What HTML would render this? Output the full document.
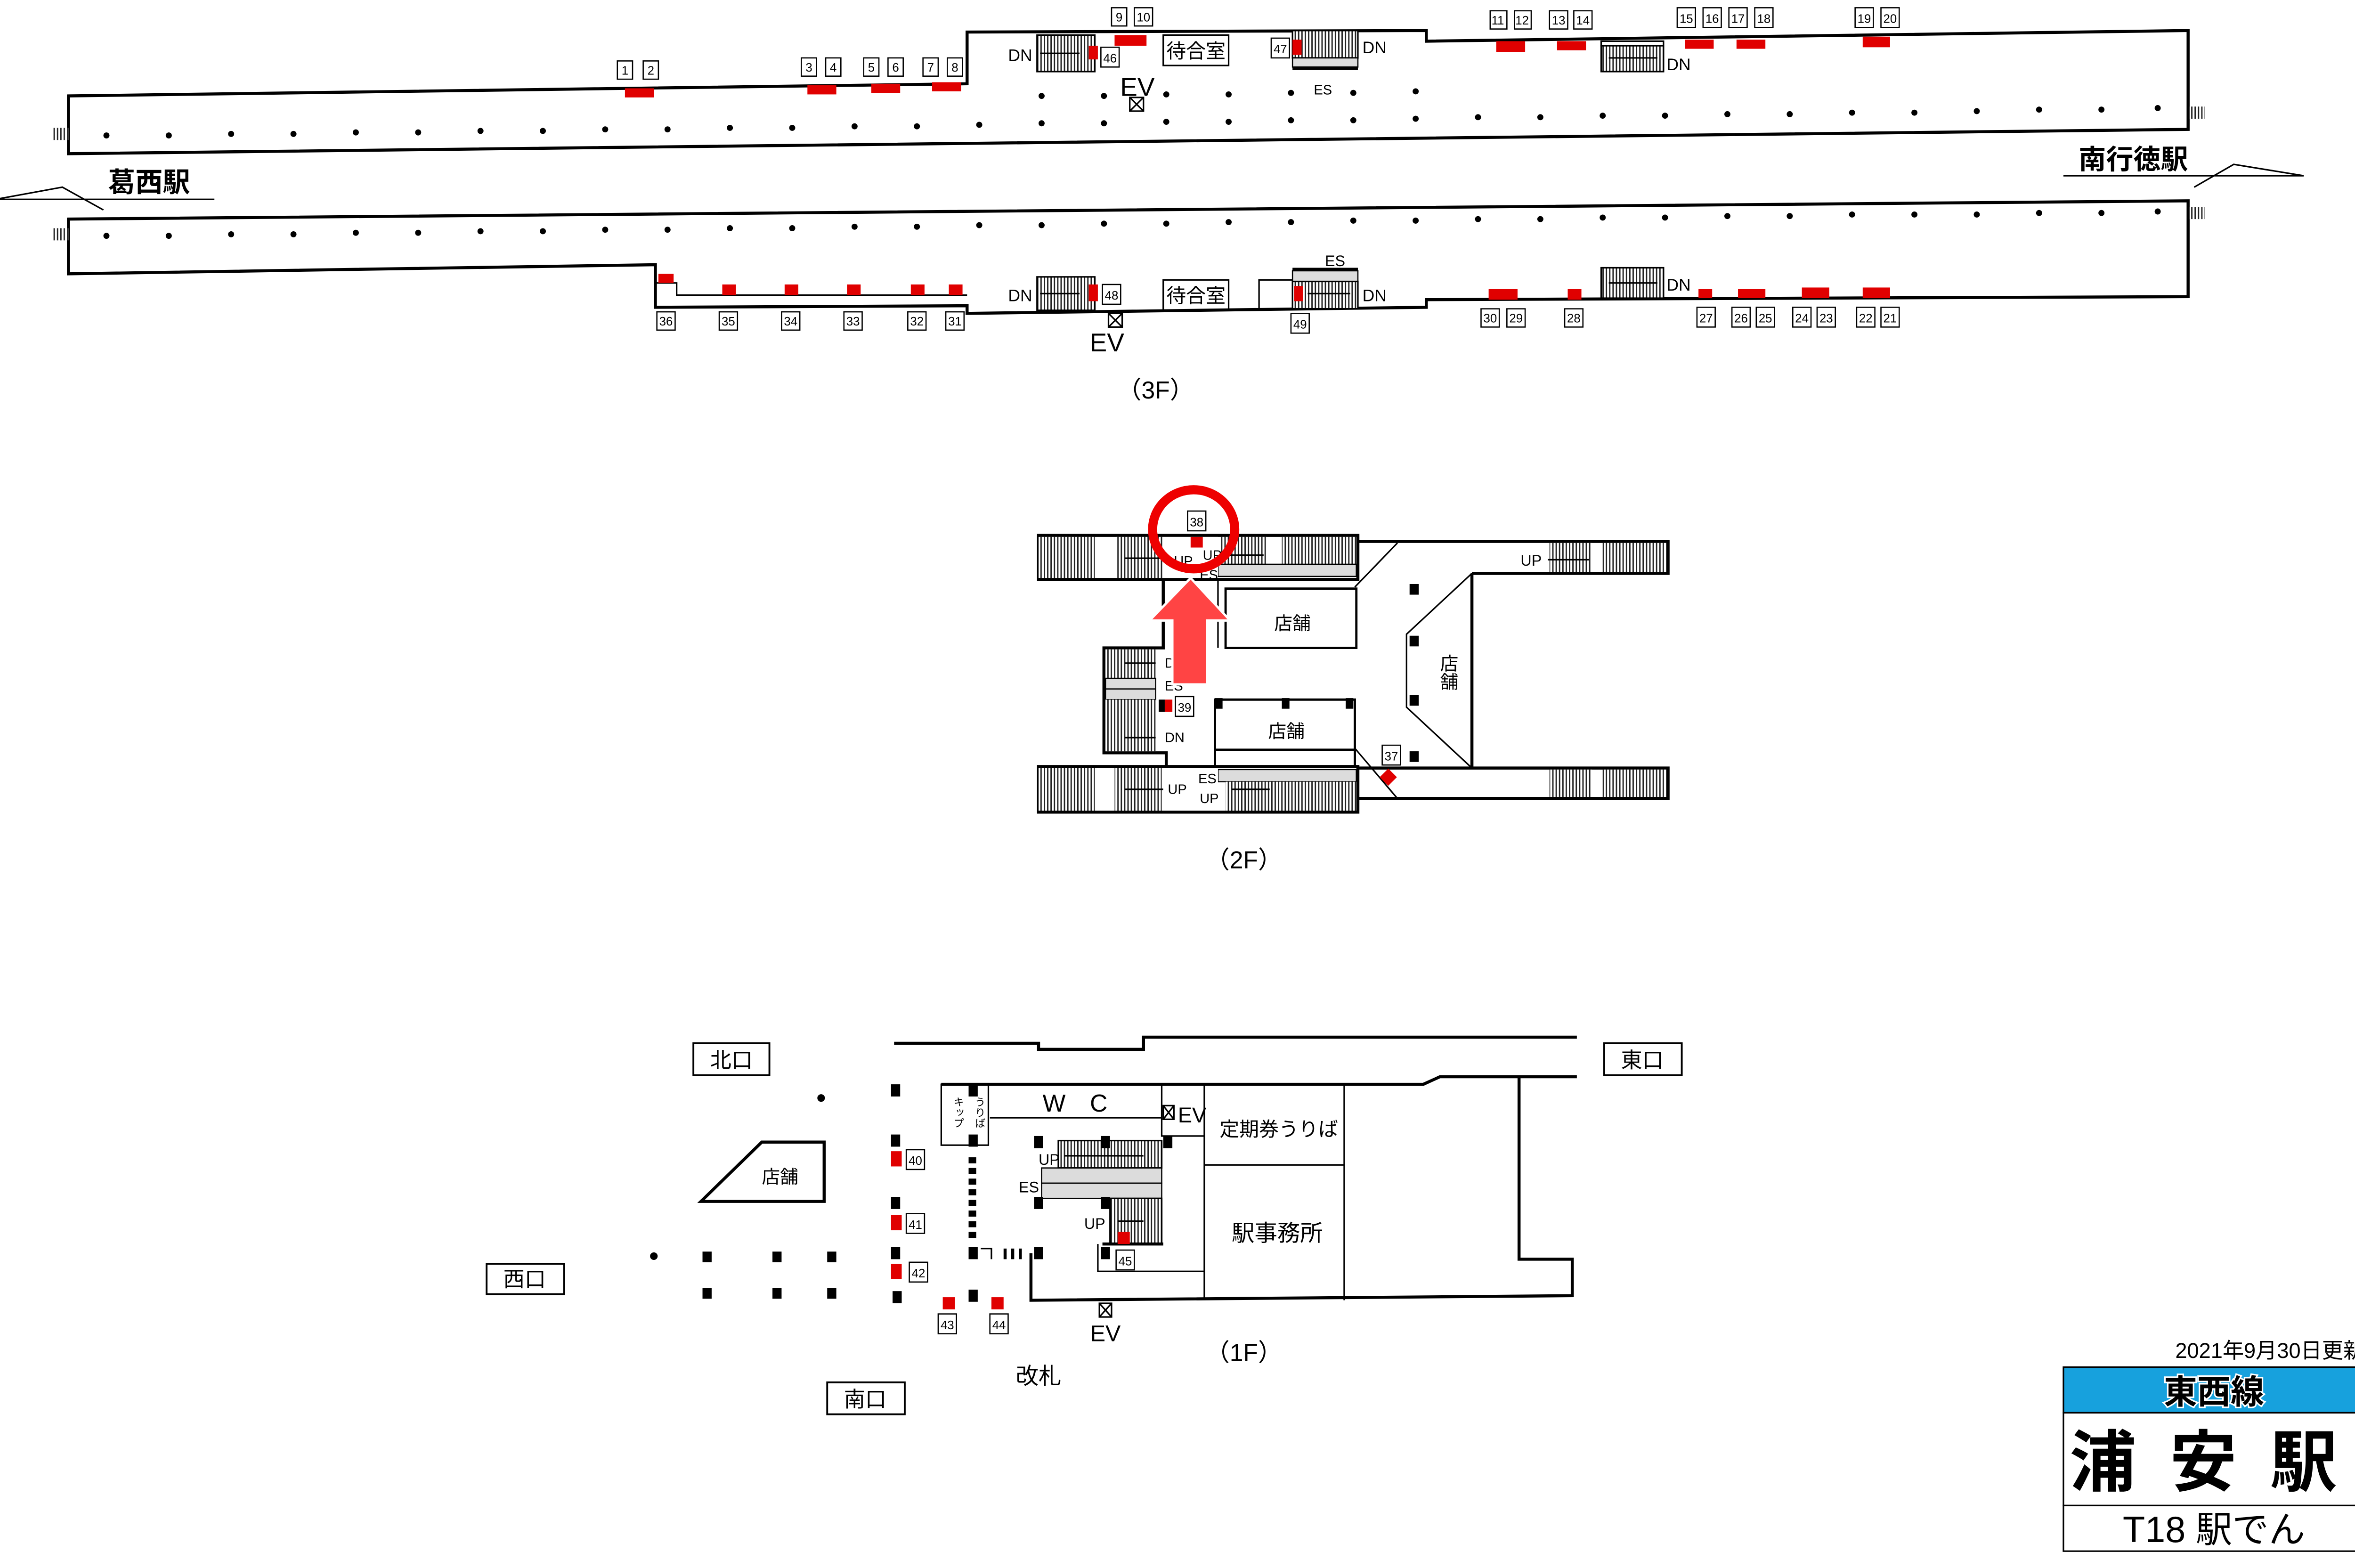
<!DOCTYPE html>
<html><head><meta charset="utf-8"><style>
html,body{margin:0;padding:0;background:#fff;}
svg{display:block;}
text{font-family:"Liberation Sans","Noto Sans CJK JP",sans-serif;fill:#000;}
.n rect{fill:#fff;stroke:#000;stroke-width:0.8;}
.n text{font-size:8px;text-anchor:middle;}
.r{fill:#e00000;}
.w{fill:none;stroke:#000;stroke-width:2;}
.t{fill:none;stroke:#000;stroke-width:1;}
.h{fill:url(#hatch);stroke:#000;stroke-width:1;}
.g{fill:#dcdcdc;stroke:#000;stroke-width:0.8;}
.p{fill:#000;}
</style></head><body>
<svg width="5046" height="3329" viewBox="0 0 1563 1031" xmlns="http://www.w3.org/2000/svg">
<defs>
<pattern id="hatch" width="2.2" height="10" patternUnits="userSpaceOnUse">
<rect width="2.2" height="10" fill="#fff"/><rect width="0.9" height="10" fill="#222"/>
</pattern>
</defs>

<!-- ===== 3F top platform ===== -->
<path class="w" d="M45,63 L636,55 L636,21 L938,20 L938,27 L1439,20 L1439,85 L45,101 Z"/>
<rect x="35" y="84" width="10" height="8" fill="url(#hatch)"/>
<rect x="1440" y="70" width="10" height="8" fill="url(#hatch)"/>
<g class="p">
<circle cx="70" cy="89" r="2"/><circle cx="111" cy="89" r="2"/><circle cx="152" cy="88" r="2"/><circle cx="193" cy="88" r="2"/><circle cx="234" cy="87" r="2"/><circle cx="275" cy="87" r="2"/><circle cx="316" cy="86" r="2"/><circle cx="357" cy="86" r="2"/><circle cx="398" cy="85" r="2"/><circle cx="439" cy="85" r="2"/><circle cx="480" cy="84" r="2"/><circle cx="521" cy="84" r="2"/><circle cx="562" cy="83" r="2"/><circle cx="603" cy="83" r="2"/><circle cx="644" cy="82" r="2"/><circle cx="685" cy="81" r="2"/><circle cx="726" cy="81" r="2"/><circle cx="767" cy="80" r="2"/><circle cx="808" cy="80" r="2"/><circle cx="849" cy="79" r="2"/><circle cx="890" cy="79" r="2"/><circle cx="931" cy="78" r="2"/><circle cx="972" cy="77" r="2"/><circle cx="1013" cy="77" r="2"/><circle cx="1054" cy="76" r="2"/><circle cx="1095" cy="76" r="2"/><circle cx="1136" cy="75" r="2"/><circle cx="1177" cy="75" r="2"/><circle cx="1218" cy="74" r="2"/><circle cx="1259" cy="74" r="2"/><circle cx="1300" cy="73" r="2"/><circle cx="1341" cy="72" r="2"/><circle cx="1382" cy="72" r="2"/><circle cx="1419" cy="71" r="2"/>
<circle cx="685" cy="63" r="2"/><circle cx="726" cy="63" r="2"/><circle cx="767" cy="62" r="2"/><circle cx="808" cy="62" r="2"/><circle cx="849" cy="61" r="2"/><circle cx="890" cy="61" r="2"/><circle cx="931" cy="60" r="2"/>
</g>
<!-- top red + numbers -->
<rect class="r" x="411" y="58" width="19" height="6"/>
<rect class="r" x="531" y="56" width="19" height="6"/><rect class="r" x="573" y="55" width="19" height="6"/><rect class="r" x="613" y="54" width="19" height="6"/>
<rect class="r" x="733" y="23" width="21" height="7"/>
<rect class="r" x="984" y="27" width="19" height="7"/><rect class="r" x="1024" y="27" width="19" height="6"/><rect class="r" x="1108" y="26" width="19" height="6"/><rect class="r" x="1142" y="26" width="19" height="6"/><rect class="r" x="1225" y="24" width="18" height="7"/>
<g class="n">
<rect x="406" y="40" width="10" height="12"/><text x="411" y="49">1</text>
<rect x="423" y="40" width="10" height="12"/><text x="428" y="49">2</text>
<rect x="527" y="38" width="10" height="12"/><text x="532" y="47">3</text>
<rect x="543" y="38" width="10" height="12"/><text x="548" y="47">4</text>
<rect x="568" y="38" width="10" height="12"/><text x="573" y="47">5</text>
<rect x="584" y="38" width="10" height="12"/><text x="589" y="47">6</text>
<rect x="607" y="38" width="10" height="12"/><text x="612" y="47">7</text>
<rect x="623" y="38" width="10" height="12"/><text x="628" y="47">8</text>
<rect x="731" y="5" width="10" height="12"/><text x="736" y="14">9</text>
<rect x="746" y="5" width="12" height="12"/><text x="752" y="14">10</text>
<rect x="980" y="7" width="11" height="12"/><text x="985" y="16">11</text>
<rect x="996" y="7" width="11" height="12"/><text x="1001" y="16">12</text>
<rect x="1019" y="7" width="12" height="12"/><text x="1025" y="16">13</text>
<rect x="1035" y="7" width="12" height="12"/><text x="1041" y="16">14</text>
<rect x="1103" y="5" width="12" height="13"/><text x="1109" y="15">15</text>
<rect x="1120" y="5" width="12" height="13"/><text x="1126" y="15">16</text>
<rect x="1137" y="5" width="12" height="13"/><text x="1143" y="15">17</text>
<rect x="1154" y="5" width="12" height="13"/><text x="1160" y="15">18</text>
<rect x="1220" y="5" width="12" height="13"/><text x="1226" y="15">19</text>
<rect x="1237" y="5" width="12" height="13"/><text x="1243" y="15">20</text>
<rect x="724" y="31" width="12" height="13"/><text x="730" y="41">46</text>
<rect x="836" y="25" width="12" height="13"/><text x="842" y="35">47</text>
</g>
<!-- top stairs -->
<rect class="h" x="682" y="23" width="38" height="24"/>
<line class="t" x1="684" y1="35" x2="710" y2="35"/>
<rect class="r" x="716" y="30" width="6" height="9"/>
<text x="663" y="40" font-size="11">DN</text>
<rect class="t" x="765" y="23" width="43" height="20" fill="#fff"/>
<text x="786.5" y="38" font-size="13" text-anchor="middle">待合室</text>
<text x="748" y="63" font-size="17" text-anchor="middle">EV</text>
<rect class="t" x="743" y="64" width="9" height="9" fill="#fff"/><path class="t" d="M743,64 L752,73 M752,64 L743,73"/>
<rect class="h" x="850" y="20" width="43" height="18"/>
<rect class="g" x="850" y="38" width="43" height="6"/>
<line x1="850" y1="45" x2="893" y2="45" stroke="#000" stroke-width="2"/>
<rect class="r" x="850" y="26" width="6" height="10"/>
<text x="896" y="35" font-size="11">DN</text>
<text x="870" y="62" font-size="9" text-anchor="middle">ES</text>
<rect class="t" x="1053" y="27" width="41" height="3" fill="#fff"/>
<rect class="h" x="1053" y="30" width="41" height="17"/>
<line class="t" x1="1058" y1="38" x2="1090" y2="38"/>
<text x="1096" y="46" font-size="11">DN</text>

<!-- ===== 3F bottom platform ===== -->
<path class="w" d="M45,144 L1439,132 L1439,195 L938,197 L938,202 L636,206 L636,201 L431,202 L431,174 L45,180 Z"/>
<path class="t" d="M431,186 L445,186 L445,194 L636,194"/>
<rect x="35" y="150" width="10" height="8" fill="url(#hatch)"/>
<rect x="1440" y="136" width="10" height="8" fill="url(#hatch)"/>
<g class="p">
<circle cx="70" cy="155" r="2"/><circle cx="111" cy="155" r="2"/><circle cx="152" cy="154" r="2"/><circle cx="193" cy="154" r="2"/><circle cx="234" cy="153" r="2"/><circle cx="275" cy="153" r="2"/><circle cx="316" cy="152" r="2"/><circle cx="357" cy="152" r="2"/><circle cx="398" cy="151" r="2"/><circle cx="439" cy="151" r="2"/><circle cx="480" cy="150" r="2"/><circle cx="521" cy="150" r="2"/><circle cx="562" cy="149" r="2"/><circle cx="603" cy="149" r="2"/><circle cx="644" cy="148" r="2"/><circle cx="685" cy="148" r="2"/><circle cx="726" cy="147" r="2"/><circle cx="767" cy="147" r="2"/><circle cx="808" cy="146" r="2"/><circle cx="849" cy="146" r="2"/><circle cx="890" cy="145" r="2"/><circle cx="931" cy="145" r="2"/><circle cx="972" cy="144" r="2"/><circle cx="1013" cy="144" r="2"/><circle cx="1054" cy="143" r="2"/><circle cx="1095" cy="143" r="2"/><circle cx="1136" cy="142" r="2"/><circle cx="1177" cy="142" r="2"/><circle cx="1218" cy="141" r="2"/><circle cx="1259" cy="141" r="2"/><circle cx="1300" cy="141" r="2"/><circle cx="1341" cy="140" r="2"/><circle cx="1382" cy="140" r="2"/><circle cx="1419" cy="139" r="2"/>
</g>
<rect class="r" x="433" y="180" width="10" height="6"/>
<rect class="r" x="475" y="187" width="9" height="7"/><rect class="r" x="516" y="187" width="9" height="7"/><rect class="r" x="557" y="187" width="9" height="7"/><rect class="r" x="599" y="187" width="9" height="7"/><rect class="r" x="624" y="187" width="9" height="7"/>
<rect class="r" x="979" y="190" width="19" height="7"/><rect class="r" x="1031" y="190" width="9" height="7"/><rect class="r" x="1117" y="190" width="9" height="6"/><rect class="r" x="1143" y="190" width="18" height="6"/><rect class="r" x="1185" y="189" width="18" height="7"/><rect class="r" x="1225" y="189" width="18" height="7"/>
<g class="n">
<rect x="432" y="205" width="12" height="12"/><text x="438" y="214">36</text>
<rect x="473" y="205" width="12" height="12"/><text x="479" y="214">35</text>
<rect x="514" y="205" width="12" height="12"/><text x="520" y="214">34</text>
<rect x="555" y="205" width="12" height="12"/><text x="561" y="214">33</text>
<rect x="597" y="205" width="12" height="12"/><text x="603" y="214">32</text>
<rect x="622" y="205" width="12" height="12"/><text x="628" y="214">31</text>
<rect x="725" y="187" width="12" height="13"/><text x="731" y="197">48</text>
<rect x="849" y="206" width="12" height="13"/><text x="855" y="216">49</text>
<rect x="974" y="203" width="12" height="12"/><text x="980" y="212">30</text>
<rect x="991" y="203" width="12" height="12"/><text x="997" y="212">29</text>
<rect x="1029" y="203" width="12" height="12"/><text x="1035" y="212">28</text>
<rect x="1116" y="202" width="12" height="13"/><text x="1122" y="212">27</text>
<rect x="1139" y="202" width="12" height="13"/><text x="1145" y="212">26</text>
<rect x="1155" y="202" width="12" height="13"/><text x="1161" y="212">25</text>
<rect x="1179" y="202" width="12" height="13"/><text x="1185" y="212">24</text>
<rect x="1195" y="202" width="12" height="13"/><text x="1201" y="212">23</text>
<rect x="1221" y="202" width="12" height="13"/><text x="1227" y="212">22</text>
<rect x="1237" y="202" width="12" height="13"/><text x="1243" y="212">21</text>
</g>
<rect class="h" x="682" y="182" width="38" height="22"/>
<line class="t" x1="684" y1="193" x2="710" y2="193"/>
<rect class="r" x="716" y="187" width="6" height="11"/>
<text x="663" y="198" font-size="11">DN</text>
<rect class="t" x="765" y="184" width="43" height="20" fill="#fff"/>
<text x="786.5" y="199" font-size="13" text-anchor="middle">待合室</text>
<rect class="t" x="729" y="206" width="9" height="9" fill="#fff"/><path class="t" d="M729,206 L738,215 M738,206 L729,215"/>
<text x="728" y="231" font-size="17" text-anchor="middle">EV</text>
<rect class="t" x="828" y="184" width="22" height="19" fill="#fff"/>
<line x1="850" y1="177" x2="893" y2="177" stroke="#000" stroke-width="2"/>
<rect class="g" x="850" y="178" width="43" height="7"/>
<rect class="h" x="850" y="185" width="43" height="18"/>
<line class="t" x1="860" y1="193" x2="888" y2="193"/>
<rect class="r" x="851" y="188" width="6" height="10"/>
<text x="878" y="175" font-size="10" text-anchor="middle">ES</text>
<text x="896" y="198" font-size="11">DN</text>
<rect class="h" x="1053" y="176" width="41" height="20"/>
<line class="t" x1="1058" y1="186" x2="1090" y2="186"/>
<text x="1096" y="191" font-size="11">DN</text>

<!-- station names -->
<text x="98" y="126" font-size="18" text-anchor="middle" font-weight="bold">葛西駅</text>
<path class="t" d="M0,130.5 L41,123 L68,138 M0,131 L141,131"/>
<text x="1403" y="111" font-size="18" text-anchor="middle" font-weight="bold">南行徳駅</text>
<path class="t" d="M1357,115.5 L1515,115.5 M1443,123 L1469,108 L1515,115.5"/>
<text x="760" y="262" font-size="16" text-anchor="middle">（3F）</text>

<!-- ===== 2F ===== -->
<rect class="w" x="683" y="352" width="210" height="29" fill="#fff"/>
<rect x="683" y="353" width="37" height="27" fill="url(#hatch)"/>
<rect x="734" y="353" width="31" height="27" fill="url(#hatch)"/>
<rect x="803" y="353" width="30" height="18" fill="url(#hatch)"/>
<rect x="843" y="353" width="49" height="18" fill="url(#hatch)"/>
<rect class="g" x="801" y="371" width="91" height="8"/>
<line class="t" x1="740" y1="367" x2="765" y2="367"/><line class="t" x1="805" y1="365" x2="831" y2="365"/>
<rect x="765" y="353" width="36" height="27" fill="#fff"/>
<path class="w" d="M893,356 L1097,356 L1097,377 L968,377 M893,505 L968,505 L968,377 M968,505 L1097,505 L1097,525 L893,525"/>
<rect x="1019" y="357" width="28" height="19" fill="url(#hatch)"/><rect x="1054" y="357" width="42" height="19" fill="url(#hatch)"/>
<rect x="1019" y="506" width="28" height="18" fill="url(#hatch)"/><rect x="1054" y="506" width="42" height="18" fill="url(#hatch)"/>
<text x="1000" y="372" font-size="10">UP</text><line class="t" x1="1018" y1="368" x2="1045" y2="368"/>
<path class="t" d="M891,386 L919,357 M968,377 L925,417 L925,465 L968,505 M891,492 L919,525"/>
<g class="p"><rect x="927" y="384" width="6" height="7"/><rect x="927" y="418" width="6" height="7"/><rect x="927" y="457" width="6" height="7"/><rect x="927" y="494" width="6" height="7"/></g>
<text x="952" y="442" font-size="12" text-anchor="middle" writing-mode="tb">店舗</text>
<rect class="w" x="683" y="504" width="210" height="30" fill="#fff"/>
<rect x="683" y="505" width="37" height="28" fill="url(#hatch)"/>
<rect x="733" y="505" width="31" height="28" fill="url(#hatch)"/>
<rect class="g" x="801" y="506" width="91" height="8"/>
<rect x="806" y="514" width="86" height="19" fill="url(#hatch)"/>
<line class="t" x1="740" y1="519" x2="765" y2="519"/><line class="t" x1="810" y1="519" x2="835" y2="519"/>
<rect x="765" y="505" width="36" height="28" fill="#fff"/>
<path class="w" d="M765,381 L765,426 L726,426 L726,495 L767,495 L767,504"/>
<rect x="727" y="427" width="33" height="19" fill="url(#hatch)"/>
<rect class="g" x="727" y="446" width="33" height="7"/><rect class="g" x="727" y="453" width="33" height="7"/>
<rect x="727" y="460" width="33" height="34" fill="url(#hatch)"/>
<line class="t" x1="740" y1="436" x2="760" y2="436"/><line class="t" x1="740" y1="485" x2="760" y2="485"/>
<path class="t" d="M801,381 L801,426 M806,388 L806,426"/>
<rect class="w" x="806" y="387" width="86" height="39" fill="#fff" style="stroke-width:1.5"/>
<text x="850" y="414" font-size="12" text-anchor="middle">店舗</text>
<rect class="t" x="799" y="460" width="92" height="33" fill="#fff" style="stroke-width:1.5"/>
<rect class="t" x="799" y="493" width="92" height="11" fill="#fff" style="stroke-width:1.5"/>
<g class="p"><rect x="799" y="459" width="5" height="7"/><rect x="843" y="459" width="5" height="7"/><rect x="885" y="459" width="5" height="7"/><rect x="762" y="460" width="4" height="8"/></g>
<text x="846" y="485" font-size="12" text-anchor="middle">店舗</text>
<rect class="r" x="766" y="460" width="5" height="8"/>
<rect class="r" x="783" y="353" width="8" height="7"/>
<rect class="r" x="909" y="507" width="8" height="8" transform="rotate(45 913 511)"/>
<g class="n">
<rect x="781" y="336" width="12" height="13"/><text x="787" y="346">38</text>
<rect x="773" y="458" width="12" height="13"/><text x="779" y="468">39</text>
<rect x="909" y="490" width="12" height="13"/><text x="915" y="500">37</text>
</g>
<text x="766" y="439" font-size="9">DN</text><text x="766" y="454" font-size="9">ES</text><text x="766" y="488" font-size="9">DN</text>
<text x="788" y="515" font-size="9">ES</text><text x="768" y="522" font-size="9">UP</text><text x="789" y="528" font-size="9">UP</text>
<text x="772" y="372" font-size="9">UP</text><text x="791" y="368" font-size="9">UP</text><text x="789" y="381" font-size="9">ES</text>
<!-- highlight -->
<path d="M783,380 L809,408 L794,408 L794,450 L771,450 L771,408 L756,408 Z" fill="#ff4444" stroke="#fff" stroke-width="1.5"/>
<ellipse cx="785" cy="348" rx="27" ry="26" fill="none" stroke="#ee0000" stroke-width="6"/>
<text x="818" y="571" font-size="16" text-anchor="middle">（2F）</text>

<!-- ===== 1F ===== -->
<path class="w" d="M588,686 L683,686 L683,690 L752,690 L752,682 L1037,682"/>
<path class="w" d="M619,713 L936,713 L947,708 L1037,708 M999,708 L999,828 L1034,828 L1034,852 L678,855 L678,824"/>
<path class="t" d="M792,713 L792,855 M884,713 L884,855 M792,766 L884,766 M651,735 L764,735 M764,713 L764,747 L792,747 M722,818 L722,836 L792,836"/>
<rect class="t" x="619" y="713" width="31" height="40" fill="#fff"/>
<text x="630" y="721" font-size="7" writing-mode="tb">キップ</text>
<text x="644" y="721" font-size="7" writing-mode="tb">うりば</text>
<text x="707" y="731" font-size="16" text-anchor="middle">W　C</text>
<rect class="t" x="765" y="727" width="7" height="9" fill="#fff"/><path class="t" d="M765,727 L772,736 M772,727 L765,736"/>
<text x="784" y="738" font-size="14" text-anchor="middle">EV</text>
<text x="841" y="747" font-size="13" text-anchor="middle">定期券うりば</text>
<text x="840" y="816" font-size="15" text-anchor="middle">駅事務所</text>
<rect x="696" y="750" width="68" height="18" fill="url(#hatch)" stroke="#000" stroke-width="1"/>
<rect class="g" x="685" y="768" width="79" height="10"/><rect class="g" x="685" y="778" width="79" height="10"/>
<rect x="730" y="788" width="34" height="30" fill="url(#hatch)" stroke="#000" stroke-width="1"/>
<line x1="725" y1="818" x2="765" y2="818" stroke="#000" stroke-width="2"/>
<line class="t" x1="700" y1="760" x2="752" y2="760"/><line class="t" x1="735" y1="803" x2="752" y2="803"/>
<rect class="r" x="735" y="810" width="8" height="8"/>
<text x="683" y="766" font-size="10">UP</text><text x="670" y="784" font-size="10">ES</text><text x="713" y="808" font-size="10">UP</text>
<g class="p">
<rect x="586" y="713" width="6" height="8"/><rect x="586" y="746" width="6" height="8"/><rect x="586" y="787" width="6" height="8"/><rect x="586" y="820" width="6" height="8"/><rect x="587" y="849" width="6" height="8"/>
<rect x="637" y="713" width="6" height="8"/><rect x="637" y="746" width="6" height="8"/><rect x="637" y="820" width="6" height="8"/><rect x="637" y="848" width="6" height="8"/>
<rect x="680" y="747" width="6" height="8"/><rect x="680" y="787" width="6" height="8"/><rect x="680" y="820" width="6" height="8"/>
<rect x="724" y="747" width="6" height="8"/><rect x="724" y="787" width="6" height="8"/><rect x="724" y="820" width="6" height="8"/><rect x="765" y="747" width="6" height="8"/>
<rect x="462" y="823" width="6" height="7"/><rect x="508" y="823" width="6" height="7"/><rect x="544" y="823" width="6" height="7"/>
<rect x="462" y="847" width="6" height="7"/><rect x="508" y="847" width="6" height="7"/><rect x="544" y="847" width="6" height="7"/>
<circle cx="540" cy="722" r="2.5"/><circle cx="430" cy="826" r="2.5"/>
<rect x="637" y="761" width="5" height="4"/><rect x="637" y="768" width="5" height="4"/><rect x="637" y="775" width="5" height="4"/><rect x="637" y="782" width="5" height="4"/><rect x="637" y="789" width="5" height="4"/><rect x="637" y="796" width="5" height="4"/><rect x="637" y="803" width="5" height="4"/><rect x="637" y="810" width="5" height="4"/>
<rect x="660" y="821" width="2" height="7"/><rect x="665" y="821" width="2" height="7"/><rect x="670" y="821" width="2" height="7"/>
</g>
<path class="t" d="M645,821 L652,821 L652,828"/>
<rect class="r" x="586" y="757" width="7" height="10"/><rect class="r" x="586" y="799" width="7" height="10"/><rect class="r" x="586" y="831" width="7" height="10"/>
<rect class="r" x="620" y="853" width="8" height="8"/><rect class="r" x="652" y="853" width="8" height="8"/>
<g class="n">
<rect x="596" y="756" width="12" height="13"/><text x="602" y="766">40</text>
<rect x="596" y="798" width="12" height="13"/><text x="602" y="808">41</text>
<rect x="598" y="830" width="12" height="13"/><text x="604" y="840">42</text>
<rect x="617" y="864" width="12" height="13"/><text x="623" y="874">43</text>
<rect x="651" y="864" width="12" height="13"/><text x="657" y="874">44</text>
<rect x="734" y="822" width="12" height="13"/><text x="740" y="832">45</text>
</g>
<path d="M461,790 L501,751 L542,751 L542,790 Z" fill="#fff" stroke="#000" stroke-width="2"/>
<text x="513" y="778" font-size="12" text-anchor="middle">店舗</text>
<rect class="t" x="723" y="857" width="8" height="9" fill="#fff"/><path class="t" d="M723,857 L731,866 M731,857 L723,866"/>
<text x="727" y="882" font-size="15" text-anchor="middle">EV</text>
<text x="683" y="910" font-size="15" text-anchor="middle">改札</text>
<text x="818" y="895" font-size="16" text-anchor="middle">（1F）</text>
<rect x="456" y="686" width="50" height="21" fill="#fff" stroke="#000" stroke-width="1.2"/><text x="481" y="702" font-size="14" text-anchor="middle">北口</text>
<rect x="1055" y="686" width="51" height="21" fill="#fff" stroke="#000" stroke-width="1.2"/><text x="1080" y="702" font-size="14" text-anchor="middle">東口</text>
<rect x="320" y="831" width="51" height="20" fill="#fff" stroke="#000" stroke-width="1.2"/><text x="345" y="846" font-size="14" text-anchor="middle">西口</text>
<rect x="544" y="909" width="51" height="21" fill="#fff" stroke="#000" stroke-width="1.2"/><text x="569" y="925" font-size="14" text-anchor="middle">南口</text>

<!-- ===== station box ===== -->
<text x="1555" y="893" font-size="14" text-anchor="end">2021年9月30日更新</text>
<rect x="1357" y="899" width="198" height="30" fill="#17a1dd" stroke="#000" stroke-width="1"/>
<text x="1456" y="923" font-size="22" text-anchor="middle" font-weight="bold" stroke="#fff" stroke-width="2" paint-order="stroke">東西線</text>
<rect x="1357" y="929" width="198" height="61" fill="#fff" stroke="#000" stroke-width="1"/>
<text x="1460" y="977" font-size="44" text-anchor="middle" font-weight="bold" letter-spacing="22">浦安駅</text>
<rect x="1357" y="990" width="198" height="30" fill="#fff" stroke="#000" stroke-width="1"/>
<text x="1456" y="1014" font-size="24" text-anchor="middle">T18 駅でん</text>
</svg>
</body></html>
